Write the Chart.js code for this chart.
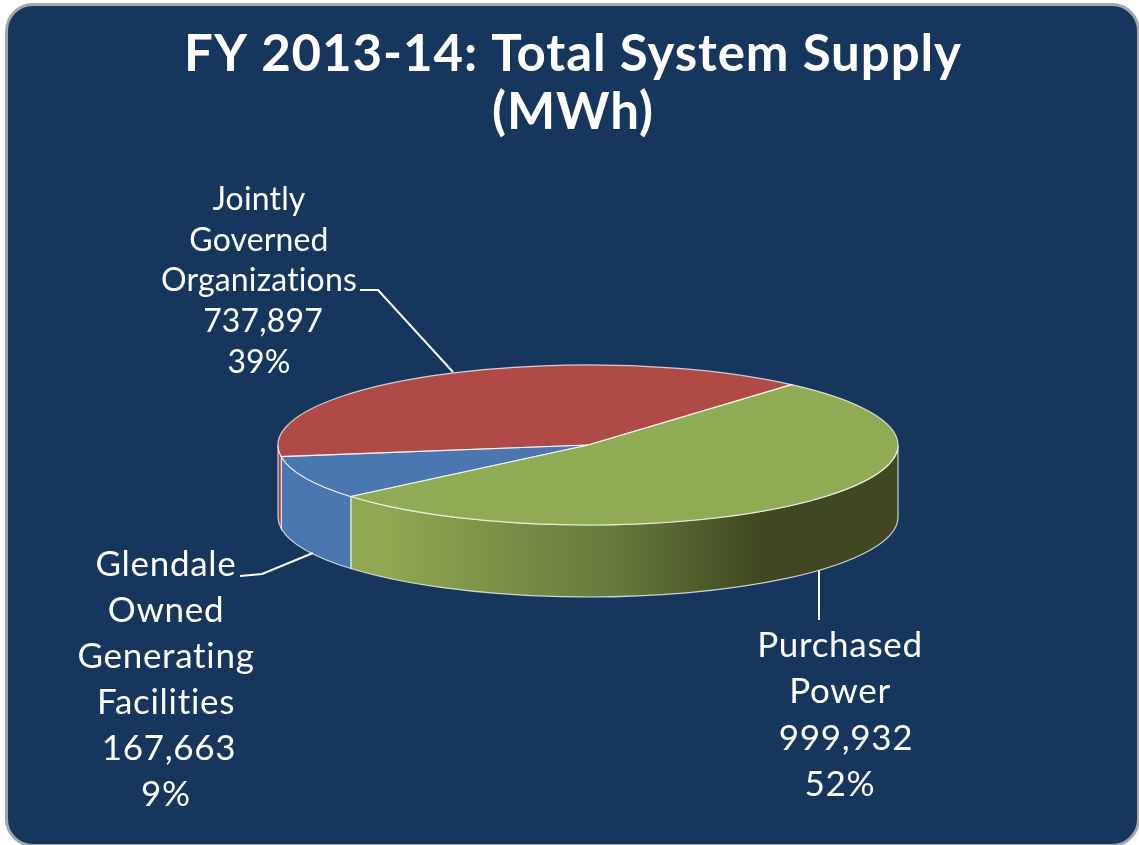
<!DOCTYPE html>
<html>
<head>
<meta charset="utf-8">
<title>FY 2013-14: Total System Supply</title>
<script src="https://cdn.jsdelivr.net/npm/chart.js@4"></script>
<style>
    html, body { margin: 0; padding: 0; background: #fff; overflow: hidden; }
    #panel {
        position: absolute; left: 5px; top: 3px; width: 1129px; height: 838px;
        background: #17365d; border: 3px solid #a3a7ab; border-radius: 28px;
    }
    canvas { position: absolute; left: 0; top: 0; }
</style>
</head>
<body>
<div id="panel"></div>
<canvas id="supplyChart" width="1139" height="845"></canvas>
<script>
// Datos
const titleLines = ['FY 2013-14: Total System Supply', '(MWh)'];
const categories = ['Purchased Power', 'Glendale Owned Generating Facilities', 'Jointly Governed Organizations'];
const values = [999932, 167663, 737897];
const percents = ['52%', '9%', '39%'];
const nameLines = [
    ['Purchased', 'Power'],
    ['Glendale', 'Owned', 'Generating', 'Facilities'],
    ['Jointly', 'Governed', 'Organizations']
];
const sliceColors = ['#8fab53', '#4a77b0', '#b04a46'];

// Colocacion de etiquetas y del "3D"
const labelLayout = [
    { x: 840, y: 657, step: 46.3, size: 35, spacing: 0.7, valueDx: 6, leader: [[819, 570], [819, 620]] },
    { x: 166, y: 576, step: 46, size: 35, spacing: 0.7, valueDx: 3, leader: [[240, 576], [262, 574], [313, 553]] },
    { x: 259, y: 210, step: 40.7, size: 32, spacing: 0.15, valueDx: 4, leader: [[360, 290], [378, 290], [453, 372]] }
];
const pieShiftX = 15;
const pieTilt = 80 / 310;
const pieDepth = 72;
const edgeColor = 'rgba(255, 255, 255, 0.75)';

function pieGeometry(chart) {
    const first = chart.getDatasetMeta(0).data[0];
    return { cx: first.x + pieShiftX, cy: first.y, r: first.outerRadius };
}

// Pared frontal de cada porcion, desde los angulos que calcula Chart.js
function drawWalls(chart) {
    const ctx = chart.ctx;
    const { cx, cy, r } = pieGeometry(chart);
    const ry = r * pieTilt;
    const greenWall = ctx.createLinearGradient(cx - 200, 0, cx + 190, 0);
    greenWall.addColorStop(0, '#8fa851');
    greenWall.addColorStop(0.6, '#64783a');
    greenWall.addColorStop(0.95, '#3f4821');
    greenWall.addColorStop(1, '#3f4821');
    const wallFills = [greenWall, '#4a77b0', '#a04340'];

    chart.getDatasetMeta(0).data.forEach((arc, i) => {
        [0, 2 * Math.PI].forEach(turn => {
            const a0 = Math.max(arc.startAngle, turn);
            const a1 = Math.min(arc.endAngle, turn + Math.PI);
            if (a1 <= a0) return;
            ctx.beginPath();
            ctx.ellipse(cx, cy, r, ry, 0, a0, a1);
            ctx.ellipse(cx, cy + pieDepth, r, ry, 0, a1, a0, true);
            ctx.closePath();
            ctx.fillStyle = wallFills[i];
            ctx.fill();
            ctx.strokeStyle = edgeColor;
            ctx.lineWidth = 1.2;
            ctx.stroke();
        });
    });
}

function drawTopEdges(chart) {
    const ctx = chart.ctx;
    const { cx, cy, r } = pieGeometry(chart);
    ctx.strokeStyle = edgeColor;
    ctx.lineWidth = 1.2;
    chart.getDatasetMeta(0).data.forEach(arc => {
        ctx.beginPath();
        ctx.moveTo(cx, cy);
        ctx.ellipse(cx, cy, r, r * pieTilt, 0, arc.startAngle, arc.endAngle);
        ctx.closePath();
        ctx.stroke();
    });
}

const tiltedPie = {
    id: 'tiltedPie',
    beforeDraw(chart) {
        // el titulo original es algo mas ancho que Lato
        chart.ctx.letterSpacing = '0.9px';
    },
    beforeDatasetsDraw(chart) {
        const ctx = chart.ctx;
        const { cx, cy } = pieGeometry(chart);
        ctx.letterSpacing = '0px';
        drawWalls(chart);
        ctx.save();
        ctx.translate(cx, cy);
        ctx.scale(1, pieTilt);
        ctx.translate(-(cx - pieShiftX), -cy);
    },
    afterDatasetsDraw(chart) {
        chart.ctx.restore();
        drawTopEdges(chart);
    }
};

const sliceLabels = {
    id: 'sliceLabels',
    afterDraw(chart) {
        const ctx = chart.ctx;
        ctx.save();
        ctx.fillStyle = '#ffffff';
        ctx.strokeStyle = '#ffffff';
        ctx.lineWidth = 2;
        ctx.textAlign = 'center';
        ctx.textBaseline = 'alphabetic';
        categories.forEach((name, i) => {
            const place = labelLayout[i];
            const lines = nameLines[i];
            ctx.font = place.size + 'px Lato';
            ctx.letterSpacing = place.spacing + 'px';
            lines.forEach((line, n) => ctx.fillText(line, place.x, place.y + n * place.step));
            ctx.fillText(values[i].toLocaleString('en-US'), place.x + place.valueDx, place.y + lines.length * place.step);
            ctx.fillText(percents[i], place.x, place.y + (lines.length + 1) * place.step);
            ctx.beginPath();
            place.leader.forEach((p, n) => n ? ctx.lineTo(p[0], p[1]) : ctx.moveTo(p[0], p[1]));
            ctx.stroke();
        });
        ctx.restore();
    }
};

new Chart(document.getElementById('supplyChart').getContext('2d'), {
    type: 'pie',
    data: {
        labels: categories,
        datasets: [{
            data: values,
            backgroundColor: sliceColors,
            borderWidth: 0,
            clip: false
        }]
    },
    options: {
        responsive: false,
        animation: false,
        rotation: 41,
        layout: { padding: { left: 7, right: 0, top: 0, bottom: 90 } },
        plugins: {
            legend: { display: false },
            tooltip: { enabled: false },
            title: {
                display: true,
                text: titleLines,
                color: '#ffffff',
                font: { family: 'Lato', weight: 'bold', size: 51, lineHeight: 1.137 },
                padding: { top: 26, bottom: -7 }
            }
        }
    },
    plugins: [tiltedPie, sliceLabels]
});
</script>
</body>
</html>
